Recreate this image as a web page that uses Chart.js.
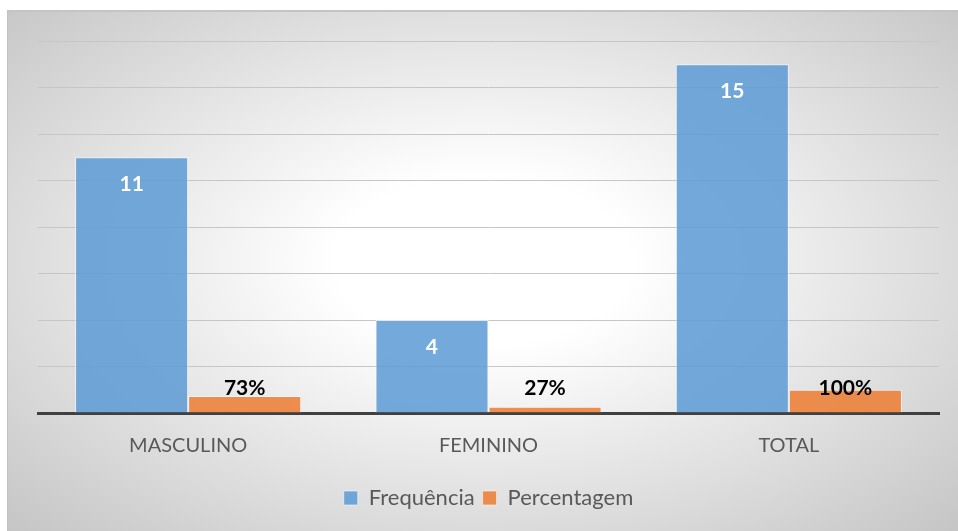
<!DOCTYPE html>
<html>
<head>
<meta charset="utf-8">
<script src="https://cdn.jsdelivr.net/npm/chart.js@4.4.1/dist/chart.umd.min.js"></script>
<style>
  html, body { margin: 0; padding: 0; background: #ffffff; width: 958px; height: 531px; overflow: hidden; }
  #wrap {
    position: absolute; left: 7px; top: 10px; width: 951px; height: 521px;
    box-sizing: border-box; border-left: 1px solid #c2c2c2; border-top: 2px solid #c4c4c4;
    background: radial-gradient(ellipse farthest-corner at 50% 48%, #ffffff 0%, #ffffff 22%, #c5c5c5 100%);
  }
  #c { display: block; }
</style>
</head>
<body>
<div id="wrap"><canvas id="c" width="950" height="519"></canvas></div>
<script>
const categories = ['MASCULINO', 'FEMININO', 'TOTAL'];
const frequencia = [11, 4, 15];
const percentagem = [0.73, 0.27, 1.00];
const seriesNames = ['Frequência', 'Percentagem'];
const yTicks = { min: 0, max: 16, step: 2 };

const FONT = 'Lato, "Open Sans", sans-serif';

const labelPlugin = {
  id: 'barLabels',
  afterDatasetsDraw(chart) {
    const ctx = chart.ctx;
    const ys = chart.scales.y;
    ctx.save();
    ctx.textAlign = 'center';
    ctx.textBaseline = 'middle';
    ctx.font = 'bold 21px ' + FONT;
    const m0 = chart.getDatasetMeta(0);
    m0.data.forEach((bar, i) => {
      ctx.fillStyle = '#ffffff';
      ctx.fillText(String(frequencia[i]), bar.x, bar.y + 27);
    });
    const m1 = chart.getDatasetMeta(1);
    m1.data.forEach((bar, i) => {
      ctx.fillStyle = '#000000';
      ctx.fillText(Math.round(percentagem[i] * 100) + '%', bar.x, ys.getPixelForValue(0) - 25);
    });
    ctx.restore();
  }
};

new Chart(document.getElementById('c'), {
  type: 'bar',
  data: {
    labels: categories,
    datasets: [
      { label: seriesNames[0], data: frequencia, backgroundColor: 'rgba(91,155,213,0.85)',
        borderColor: 'rgba(255,255,255,0.55)', borderWidth: 1 },
      { label: seriesNames[1], data: percentagem, backgroundColor: 'rgba(237,125,49,0.85)',
        borderColor: 'rgba(255,255,255,0.55)', borderWidth: 1 }
    ]
  },
  options: {
    responsive: false,
    animation: false,
    devicePixelRatio: 1,
    layout: { padding: { left: 30, right: 19, top: 29, bottom: 12 } },
    datasets: { bar: { categoryPercentage: 0.753, barPercentage: 1.0 } },
    scales: {
      x: {
        grid: { display: false, drawTicks: false },
        border: { display: true, color: '#404040', width: 3 },
        ticks: { color: '#595959', font: { family: FONT, size: 20 }, padding: 21 }
      },
      y: {
        min: yTicks.min, max: yTicks.max,
        ticks: { display: false, stepSize: yTicks.step },
        grid: { color: '#c6c6c6', lineWidth: 1, drawTicks: false },
        border: { display: false }
      }
    },
    plugins: {
      legend: {
        position: 'bottom',
        labels: { color: '#595959', font: { family: FONT, size: 22 }, boxWidth: 14, boxHeight: 14, padding: 8 }
      },
      tooltip: { enabled: false }
    }
  },
  plugins: [labelPlugin]
});
</script>
</body>
</html>
